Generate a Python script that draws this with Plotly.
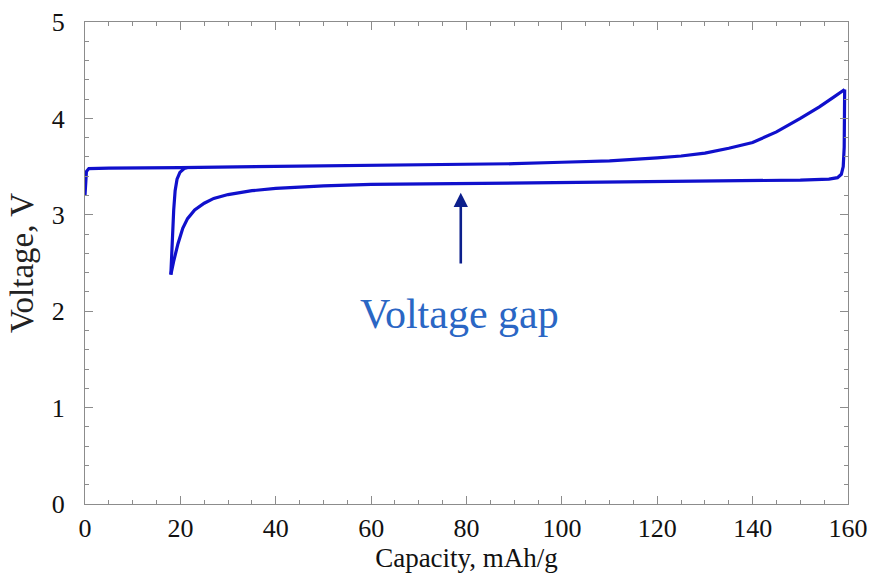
import plotly.graph_objects as go

# First charge
charge1_cap = [0, 0.1, 0.3, 0.8, 5, 20, 40, 60, 80, 90, 100, 110, 120, 125, 130, 135, 140, 145, 150, 154, 157, 159.3]
charge1_v = [3.20, 3.35, 3.45, 3.48, 3.485, 3.49, 3.50, 3.51, 3.52, 3.53, 3.545, 3.56, 3.59, 3.61, 3.64, 3.69, 3.75, 3.86, 4.00, 4.12, 4.22, 4.30]

# Discharge
discharge_cap = [159.3, 159.3, 159.2, 159.0, 158.6, 157.8, 156, 150, 140, 120, 100, 80, 60, 50, 45, 40, 35, 30, 27, 25, 23, 21.5, 20.5, 19.5, 18.6, 18.0]
discharge_v = [4.30, 4.0, 3.7, 3.5, 3.42, 3.385, 3.37, 3.36, 3.355, 3.345, 3.34, 3.33, 3.315, 3.30, 3.29, 3.275, 3.25, 3.21, 3.17, 3.12, 3.05, 2.96, 2.86, 2.70, 2.52, 2.38]

# Second charge start
charge2_cap = [18.0, 18.3, 18.6, 18.9, 19.3, 19.9, 20.8, 21.5]
charge2_v = [2.38, 2.75, 3.05, 3.25, 3.37, 3.44, 3.48, 3.49]

x_ticks = [0, 20, 40, 60, 80, 100, 120, 140, 160]
y_ticks = [0, 1, 2, 3, 4, 5]

line_color = "#1010cc"
frame_color = "#8c8c8c"
font_family = "Liberation Serif, Times New Roman, serif"
text_color = "#111111"

fig = go.Figure()
for cx, cy in [(charge1_cap, charge1_v), (discharge_cap, discharge_v), (charge2_cap, charge2_v)]:
    fig.add_trace(go.Scatter(x=cx, y=cy, mode="lines",
                             line=dict(color=line_color, width=3.2),
                             showlegend=False, hoverinfo="skip"))

fig.add_annotation(x=78.8, y=3.23, ax=78.8, ay=2.48, xref="x", yref="y", axref="x", ayref="y",
                   text="", showarrow=True, arrowhead=2, arrowsize=1.1, arrowwidth=2.6,
                   arrowcolor="#0c1f8c")
fig.add_annotation(x=78.6, y=1.97, xref="x", yref="y", text="Voltage gap", showarrow=False,
                   font=dict(family=font_family, size=42, color="#2a66c4"))

axis_common = dict(showgrid=False, zeroline=False, showline=True, linecolor=frame_color, linewidth=1.2,
                   mirror="ticks", ticks="inside", ticklen=8, tickcolor=frame_color, tickwidth=1.2,
                   automargin=False,
                   tickfont=dict(family=font_family, size=26, color=text_color))

fig.update_xaxes(range=[0, 160], tickvals=x_ticks, ticktext=[str(v) for v in x_ticks],
                 minor=dict(dtick=5, tick0=0, ticks="inside", ticklen=4, tickcolor=frame_color, tickwidth=1),
                 title=dict(text="Capacity, mAh/g", font=dict(family=font_family, size=27, color=text_color), standoff=0),
                 ticklabelstandoff=1,
                 **axis_common)
fig.update_yaxes(range=[0, 5], tickvals=y_ticks, ticktext=[str(v) for v in y_ticks],
                 minor=dict(dtick=0.2, tick0=0, ticks="inside", ticklen=4, tickcolor=frame_color, tickwidth=1),
                 title=dict(text="Voltage, V", font=dict(family=font_family, size=33, color="#222222"), standoff=8),
                 ticklabelstandoff=14,
                 **axis_common)

fig.update_layout(width=871, height=576, margin=dict(l=85, r=23, t=22, b=72),
                  plot_bgcolor="white", paper_bgcolor="white")

fig.write_html("out.html", config={"displayModeBar": False},
               post_script="document.body.style.margin='0';")
